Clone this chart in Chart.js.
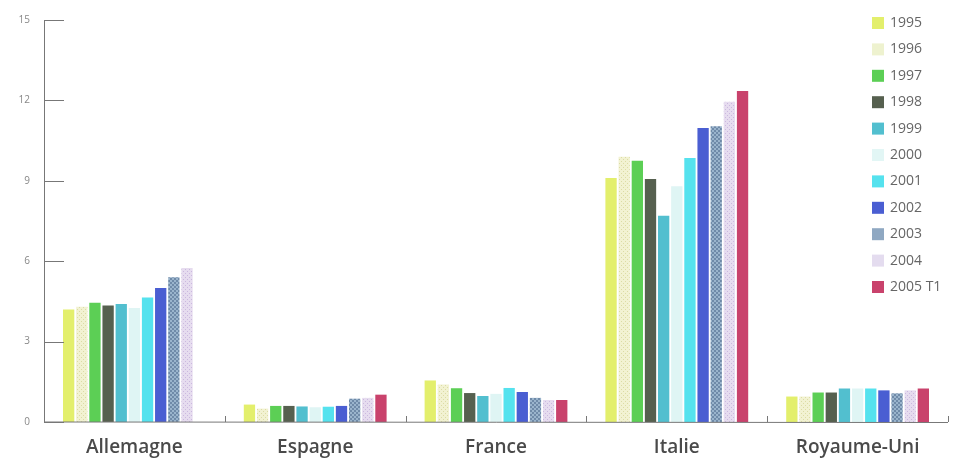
<!DOCTYPE html>
<html>
<head>
<meta charset="utf-8">
<script src="https://cdn.jsdelivr.net/npm/chart.js@4"></script>
<style>
  html, body { margin: 0; padding: 0; background: #fff; }
  #wrap { width: 966px; height: 464px; position: relative; }
</style>
</head>
<body>
<div id="wrap"><canvas id="chart"></canvas></div>
<script>
// categories and years
const countries = ['Allemagne', 'Espagne', 'France', 'Italie', 'Royaume-Uni'];
const years = ['1995', '1996', '1997', '1998', '1999', '2000', '2001', '2002', '2003', '2004', '2005 T1'];
const yTicks = [0, 3, 6, 9, 12, 15];

// values per year, one per country
const v1995 = [4.2, 0.65, 1.55, 9.1, 0.95];
const v1996 = [4.3, 0.5, 1.4, 9.9, 0.95];
const v1997 = [4.45, 0.6, 1.26, 9.75, 1.1];
const v1998 = [4.35, 0.6, 1.08, 9.07, 1.1];
const v1999 = [4.4, 0.58, 0.97, 7.7, 1.25];
const v2000 = [4.25, 0.55, 1.05, 8.8, 1.25];
const v2001 = [4.65, 0.57, 1.27, 9.85, 1.25];
const v2002 = [5.0, 0.6, 1.12, 10.97, 1.18];
const v2003 = [5.4, 0.87, 0.9, 11.04, 1.07];
const v2004 = [5.75, 0.9, 0.82, 11.95, 1.18];
const v2005 = [null, 1.02, 0.82, 12.35, 1.25];
const seriesValues = [v1995, v1996, v1997, v1998, v1999, v2000, v2001, v2002, v2003, v2004, v2005];

// small canvas patterns for the textured bars
function makePattern(bg, fg, kind) {
    const c = document.createElement('canvas');
    c.width = 4; c.height = 4;
    const g = c.getContext('2d');
    g.fillStyle = bg;
    g.fillRect(0, 0, 4, 4);
    g.fillStyle = fg;
    if (kind === 'check') {
        g.fillRect(0, 0, 2, 2);
        g.fillRect(2, 2, 2, 2);
    } else {
        g.fillRect(1, 1, 1, 1);
        g.fillRect(3, 3, 1, 1);
    }
    return g.createPattern(c, 'repeat');
}

const colors = [
    '#e3ef6c',
    makePattern('#f2f2d2', '#dcdca4', 'dots'),
    '#5ccf55',
    '#56604f',
    '#52bfcf',
    '#dff5f4',
    '#55e2ee',
    '#4a5ed2',
    makePattern('#9ab4cc', '#6f8aa8', 'check'),
    makePattern('#e6dcef', '#cbb8df', 'dots'),
    '#c9426c'
];
const legendColors = ['#e3ef6c', '#eef2cf', '#5ccf55', '#56604f', '#52bfcf', '#e2f6f5', '#55e2ee', '#4a5ed2', '#8fa8c2', '#e4dcef', '#c9426c'];

// inward tick marks on both axes
const axisMarks = {
    id: 'axisMarks',
    afterDraw(chart) {
        const ctx = chart.ctx;
        const ya = chart.scales.y, xa = chart.scales.x;
        const area = chart.chartArea;
        ctx.save();
        ctx.strokeStyle = '#777';
        ctx.lineWidth = 1;
        ctx.beginPath();
        ctx.moveTo(area.left + 0.5, ya.getPixelForValue(15));
        ctx.lineTo(area.left + 0.5, ya.getPixelForValue(0));
        ctx.lineTo(area.right, ya.getPixelForValue(0) + 0.5);
        yTicks.forEach(t => {
            const y = Math.round(ya.getPixelForValue(t)) + 0.5;
            ctx.moveTo(area.left, y);
            ctx.lineTo(area.left + 20, y);
        });
        for (let i = 1; i <= countries.length; i++) {
            const x = Math.round(xa.getPixelForValue(i - 0.5)) + 0.5;
            const y0 = ya.getPixelForValue(0);
            ctx.moveTo(x, y0);
            ctx.lineTo(x, y0 - 6);
        }
        ctx.stroke();
        ctx.restore();
    }
};

// legend drawn at the upper right
const sideLegend = {
    id: 'sideLegend',
    afterDraw(chart) {
        const ctx = chart.ctx;
        ctx.save();
        ctx.font = '14px "Open Sans", sans-serif';
        ctx.textBaseline = 'middle';
        years.forEach((yr, i) => {
            const y = 23 + i * 26.4;
            ctx.fillStyle = legendColors[i];
            ctx.fillRect(872, y - 6, 12, 12);
            ctx.fillStyle = '#666';
            ctx.fillText(yr, 890, y);
        });
        ctx.restore();
    }
};

new Chart(document.getElementById('chart'), {
    type: 'bar',
    data: {
        labels: countries,
        datasets: years.map((yr, i) => ({
            label: yr,
            data: seriesValues[i],
            backgroundColor: colors[i],
            borderWidth: 0,
            categoryPercentage: 0.8,
            barPercentage: 0.86
        }))
    },
    options: {
        responsive: true,
        maintainAspectRatio: false,
        animation: false,
        layout: { padding: { top: 19, right: 18, left: 0, bottom: 0 } },
        plugins: {
            legend: { display: false },
            tooltip: { enabled: false }
        },
        scales: {
            x: {
                grid: { display: false, drawTicks: false },
                border: { display: false },
                ticks: {
                    color: '#4a4a4a',
                    padding: 14,
                    font: { family: '"Open Sans", sans-serif', size: 19, weight: '600' },
                    maxRotation: 0
                },
                afterFit(scale) { scale.height = 42; }
            },
            y: {
                min: 0,
                max: 15,
                afterBuildTicks(scale) { scale.ticks = yTicks.map(v => ({ value: v })); },
                grid: { display: false, drawTicks: false },
                border: { display: false },
                ticks: {
                    color: '#888',
                    padding: 14,
                    font: { family: '"Open Sans", sans-serif', size: 10 }
                },
                afterFit(scale) { scale.width = 44; }
            }
        }
    },
    plugins: [axisMarks, sideLegend]
});
</script>
</body>
</html>
